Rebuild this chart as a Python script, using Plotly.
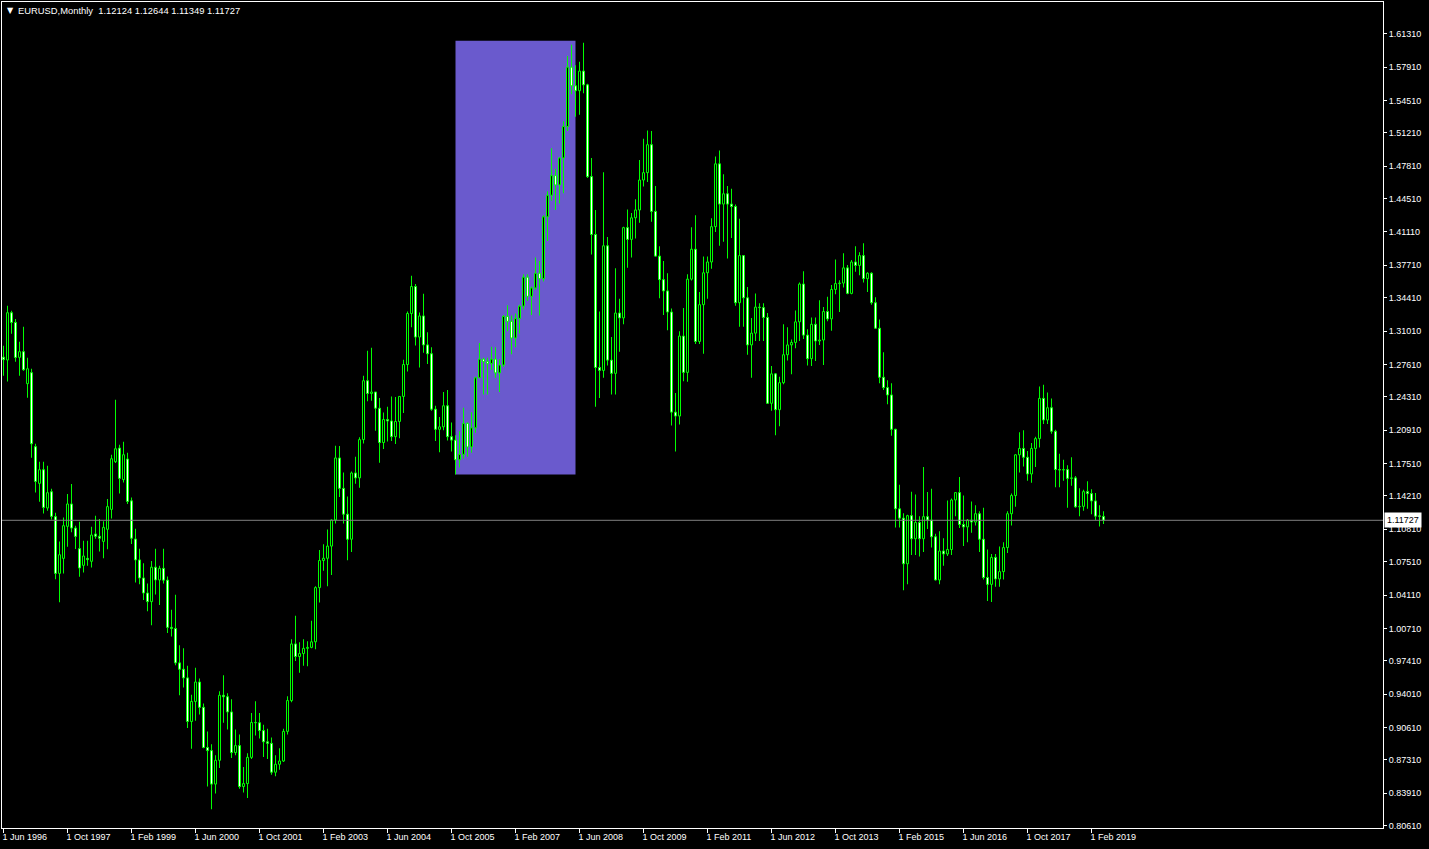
import plotly.graph_objects as go
import pandas as pd

# ---------------- data (EURUSD monthly) ----------------
chart_title = "EURUSD,Monthly  1.12124 1.12644 1.11349 1.11727"
first_month = "1996-06"

opens = [
    # 1996 Jun-Dec
    1.2835, 1.2806, 1.3288, 1.3189, 1.2833, 1.2891, 1.2565,
    # 1997
    1.2677, 1.1923, 1.1549, 1.1688, 1.1298, 1.1464, 1.1210, 1.0632, 1.0785, 1.1111, 1.1339, 1.1094,
    # 1998
    1.0884, 1.0714, 1.0785, 1.0755, 1.1033, 1.1010, 1.0958, 1.1081, 1.1284, 1.1770, 1.1909, 1.1587,
    # 1999
    1.1797, 1.1371, 1.0982, 1.0769, 1.0585, 1.0432, 1.0344, 1.0695, 1.0565, 1.0683, 1.0563, 1.0082,
    # 2000
    1.0070, 0.9720, 0.9655, 0.9567, 0.9123, 0.9327, 0.9525, 0.9267, 0.8858, 0.8826, 0.8485, 0.8727,
    # 2001
    0.9390, 0.9375, 0.9220, 0.8806, 0.8877, 0.8460, 0.8490, 0.8757, 0.9113, 0.9110, 0.9030, 0.8916,
    # 2002
    0.8900, 0.8606, 0.8687, 0.8720, 0.9022, 0.9336, 0.9913, 0.9785, 0.9815, 0.9868, 0.9878, 0.9935,
    # 2003
    1.0487, 1.0763, 1.0786, 1.0910, 1.1176, 1.1808, 1.1498, 1.1235, 1.0980, 1.1655, 1.1605, 1.1995,
    # 2004
    1.2595, 1.2465, 1.2480, 1.2315, 1.1965, 1.2200, 1.2185, 1.2025, 1.2180, 1.2435, 1.2760, 1.3280,
    # 2005
    1.3555, 1.3040, 1.3255, 1.2960, 1.2870, 1.2305, 1.2100, 1.2125, 1.2340, 1.2025, 1.1990, 1.1790,
    # 2006
    1.1845, 1.2160, 1.1920, 1.2115, 1.2625, 1.2815, 1.2790, 1.2770, 1.2815, 1.2675, 1.2755, 1.3250,
    # 2007
    1.3200, 1.3030, 1.3230, 1.3355, 1.3650, 1.3455, 1.3540, 1.3690, 1.3635, 1.4265, 1.4485, 1.4685,
    # 2008
    1.4590, 1.4865, 1.5185, 1.5790, 1.5600, 1.5550, 1.5750, 1.5610, 1.4675, 1.4085, 1.2730, 1.2700,
    # 2009
    1.3970, 1.2805, 1.2670, 1.3285, 1.3235, 1.4155, 1.4035, 1.4255, 1.4335, 1.4640, 1.4715, 1.5000,
    # 2010
    1.4320, 1.3865, 1.3625, 1.3510, 1.3295, 1.2275, 1.2235, 1.3050, 1.2680, 1.3630, 1.3935, 1.2995,
    # 2011
    1.3370, 1.3695, 1.3805, 1.4165, 1.4805, 1.4395, 1.4500, 1.4395, 1.4370, 1.3390, 1.3870, 1.3440,
    # 2012
    1.2960, 1.3080, 1.3345, 1.3340, 1.3240, 1.2365, 1.2665, 1.2300, 1.2575, 1.2860, 1.2960, 1.2985,
    # 2013
    1.3195, 1.3580, 1.3060, 1.2820, 1.3170, 1.3000, 1.3010, 1.3300, 1.3225, 1.3525, 1.3585, 1.3590,
    # 2014
    1.3745, 1.3485, 1.3805, 1.3770, 1.3870, 1.3635, 1.3690, 1.3390, 1.3130, 1.2630, 1.2525, 1.2450,
    # 2015
    1.2100, 1.1290, 1.1195, 1.0730, 1.1220, 1.0985, 1.1150, 1.0985, 1.1210, 1.1175, 1.1005, 1.0565,
    # 2016
    1.0860, 1.0830, 1.0875, 1.1380, 1.1455, 1.1130, 1.1105, 1.1175, 1.1155, 1.1240, 1.0980, 1.0590,
    # 2017
    1.0520, 1.0795, 1.0575, 1.0650, 1.0895, 1.1240, 1.1425, 1.1840, 1.1905, 1.1815, 1.1645, 1.1905,
    # 2018
    1.2005, 1.2415, 1.2195, 1.2320, 1.2080, 1.1690, 1.1685, 1.1690, 1.1600, 1.1605, 1.1310, 1.1315,
    # 2019 Jan-May
    1.1465, 1.1445, 1.1370, 1.1218, 1.12124,
]

highs = [
    1.2952, 1.3360, 1.3309, 1.3225, 1.2993, 1.3146, 1.2830,
    1.2717, 1.1953, 1.1770, 1.1770, 1.1729, 1.1495, 1.1250, 1.0958, 1.1202, 1.1441, 1.1543, 1.1118,
    1.1159, 1.0965, 1.0965, 1.1108, 1.1220, 1.1186, 1.1162, 1.1390, 1.1841, 1.2402, 1.1943, 1.1974,
    1.1862, 1.1406, 1.1087, 1.0884, 1.0735, 1.0530, 1.0757, 1.0884, 1.0710, 1.0882, 1.0600, 1.0262,
    1.0414, 0.9900, 0.9870, 0.9690, 0.9395, 0.9670, 0.9560, 0.9305, 0.9020, 0.8890, 0.8780, 0.9430,
    0.9595, 0.9410, 0.9350, 0.9040, 0.8990, 0.8660, 0.8800, 0.9210, 0.9330, 0.9210, 0.9090, 0.9050,
    0.8960, 0.8780, 0.8850, 0.9050, 0.9380, 0.9960, 1.0200, 0.9930, 0.9960, 0.9940, 1.0150, 1.0500,
    1.0870, 1.0930, 1.1080, 1.1180, 1.1933, 1.1930, 1.1660, 1.1415, 1.1670, 1.1820, 1.2020, 1.2645,
    1.2900, 1.2930, 1.2480, 1.2420, 1.2270, 1.2330, 1.2435, 1.2430, 1.2435, 1.2810, 1.3300, 1.3665,
    1.3580, 1.3290, 1.3480, 1.3090, 1.2935, 1.2340, 1.2225, 1.2480, 1.2500, 1.2170, 1.2040, 1.2080,
    1.2320, 1.2170, 1.2275, 1.2635, 1.2980, 1.2830, 1.2830, 1.2940, 1.2935, 1.2815, 1.3265, 1.3365,
    1.3260, 1.3280, 1.3370, 1.3680, 1.3680, 1.3555, 1.3850, 1.3815, 1.4280, 1.4525, 1.4965, 1.4755,
    1.4870, 1.5240, 1.5905, 1.6018, 1.5810, 1.5845, 1.6038, 1.5620, 1.4865, 1.4335, 1.3300, 1.4720,
    1.4060, 1.3040, 1.3740, 1.3430, 1.4165, 1.4340, 1.4305, 1.4445, 1.4845, 1.5060, 1.5145, 1.5140,
    1.4580, 1.3965, 1.3815, 1.3690, 1.3330, 1.2470, 1.3100, 1.3335, 1.3680, 1.4160, 1.4280, 1.3500,
    1.3860, 1.3860, 1.4250, 1.4880, 1.4940, 1.4700, 1.4580, 1.4550, 1.4390, 1.4245, 1.3875, 1.3550,
    1.3235, 1.3485, 1.3385, 1.3385, 1.3285, 1.2745, 1.2675, 1.2635, 1.3170, 1.3140, 1.3015, 1.3310,
    1.3595, 1.3710, 1.3120, 1.3240, 1.3240, 1.3415, 1.3345, 1.3450, 1.3570, 1.3830, 1.3620, 1.3895,
    1.3775, 1.3825, 1.3965, 1.3905, 1.3995, 1.3700, 1.3700, 1.3445, 1.3220, 1.2885, 1.2600, 1.2570,
    1.2105, 1.1535, 1.1245, 1.1230, 1.1465, 1.1435, 1.1215, 1.1715, 1.1460, 1.1495, 1.1035, 1.1060,
    1.0990, 1.1375, 1.1395, 1.1460, 1.1615, 1.1425, 1.1185, 1.1365, 1.1325, 1.1265, 1.1300, 1.0875,
    1.0830, 1.0830, 1.0905, 1.0950, 1.1265, 1.1445, 1.1845, 1.2070, 1.2090, 1.1880, 1.1960, 1.2025,
    1.2535, 1.2555, 1.2475, 1.2415, 1.2095, 1.1850, 1.1790, 1.1735, 1.1815, 1.1625, 1.1500, 1.1485,
    1.1570, 1.1490, 1.1450, 1.1325, 1.12644,
]

lows = [
    1.2646, 1.2588, 1.3074, 1.2789, 1.2646, 1.2697, 1.2422,
    1.1811, 1.1457, 1.1363, 1.1243, 1.1271, 1.1182, 1.0571, 1.0337, 1.0632, 1.0904, 1.1050, 1.0880,
    1.0598, 1.0642, 1.0710, 1.0693, 1.0984, 1.0856, 1.0785, 1.0877, 1.1192, 1.1756, 1.1447, 1.1559,
    1.1339, 1.0931, 1.0540, 1.0522, 1.0360, 1.0247, 1.0104, 1.0417, 1.0310, 1.0530, 1.0025, 0.9990,
    0.9695, 0.9390, 0.9470, 0.9056, 0.8844, 0.9130, 0.9195, 0.8850, 0.8460, 0.8228, 0.8388, 0.8650,
    0.9110, 0.9040, 0.8750, 0.8780, 0.8438, 0.8400, 0.8344, 0.8740, 0.8980, 0.8950, 0.8760, 0.8740,
    0.8580, 0.8564, 0.8632, 0.8710, 0.8990, 0.9320, 0.9740, 0.9620, 0.9690, 0.9685, 0.9870, 0.9860,
    1.0335, 1.0660, 1.0500, 1.0615, 1.1140, 1.1410, 1.1140, 1.0765, 1.0850, 1.1545, 1.1505, 1.1955,
    1.2385, 1.2390, 1.2085, 1.1760, 1.1900, 1.1975, 1.1980, 1.1950, 1.2010, 1.2265, 1.2690, 1.3140,
    1.2955, 1.2730, 1.2880, 1.2765, 1.2290, 1.1980, 1.1865, 1.2090, 1.1985, 1.1875, 1.1640, 1.1710,
    1.1800, 1.1820, 1.1860, 1.2065, 1.2620, 1.2455, 1.2455, 1.2705, 1.2625, 1.2480, 1.2735, 1.3100,
    1.2865, 1.2935, 1.3075, 1.3320, 1.3410, 1.3265, 1.3520, 1.3260, 1.3605, 1.4020, 1.4430, 1.4335,
    1.4400, 1.4505, 1.5140, 1.5515, 1.5285, 1.5305, 1.5525, 1.4660, 1.3880, 1.2330, 1.2420, 1.2625,
    1.2750, 1.2455, 1.2455, 1.2890, 1.3170, 1.3745, 1.3850, 1.4045, 1.4205, 1.4575, 1.4620, 1.4215,
    1.3860, 1.3435, 1.3265, 1.3110, 1.2140, 1.1875, 1.2150, 1.2590, 1.2585, 1.3615, 1.2970, 1.2970,
    1.2870, 1.3430, 1.3735, 1.4110, 1.3970, 1.4010, 1.3840, 1.4050, 1.3360, 1.3145, 1.3145, 1.2860,
    1.2625, 1.3000, 1.3000, 1.3000, 1.2360, 1.2290, 1.2040, 1.2130, 1.2560, 1.2800, 1.2660, 1.2925,
    1.3000, 1.3020, 1.2750, 1.2745, 1.2795, 1.2960, 1.2755, 1.3200, 1.3105, 1.3475, 1.3295, 1.3545,
    1.3475, 1.3475, 1.3705, 1.3670, 1.3595, 1.3500, 1.3370, 1.3125, 1.2570, 1.2500, 1.2355, 1.2035,
    1.1100, 1.1100, 1.0460, 1.0520, 1.0820, 1.0820, 1.0805, 1.0850, 1.1085, 1.0895, 1.0560, 1.0520,
    1.0710, 1.0810, 1.0820, 1.1215, 1.1095, 1.0910, 1.0950, 1.1045, 1.1120, 1.0850, 1.0570, 1.0350,
    1.0340, 1.0495, 1.0495, 1.0570, 1.0840, 1.1120, 1.1310, 1.1660, 1.1720, 1.1575, 1.1555, 1.1715,
    1.1915, 1.2155, 1.2155, 1.2055, 1.1510, 1.1510, 1.1575, 1.1300, 1.1525, 1.1300, 1.1215, 1.1270,
    1.1290, 1.1235, 1.1175, 1.1110, 1.11349,
]

closes = [
    1.2810, 1.3288, 1.3189, 1.2832, 1.2891, 1.2707, 1.2717,
    1.1953, 1.1569, 1.1688, 1.1304, 1.1454, 1.1213, 1.0632, 1.0822, 1.1118, 1.1339, 1.1094, 1.1009,
    1.0687, 1.0809, 1.0772, 1.1023, 1.1010, 1.0990, 1.1101, 1.1312, 1.1800, 1.1902, 1.1600, 1.1841,
    1.1365, 1.0990, 1.0769, 1.0585, 1.0432, 1.0344, 1.0695, 1.0565, 1.0683, 1.0563, 1.0082, 1.0070,
    0.9720, 0.9655, 0.9567, 0.9123, 0.9327, 0.9525, 0.9267, 0.8858, 0.8826, 0.8485, 0.8727, 0.9390,
    0.9375, 0.9220, 0.8806, 0.8877, 0.8460, 0.8490, 0.8757, 0.9113, 0.9110, 0.9030, 0.8916, 0.8900,
    0.8606, 0.8687, 0.8720, 0.9022, 0.9336, 0.9913, 0.9785, 0.9815, 0.9868, 0.9878, 0.9935, 1.0487,
    1.0763, 1.0786, 1.0910, 1.1176, 1.1808, 1.1498, 1.1235, 1.0980, 1.1655, 1.1605, 1.1995, 1.2595,
    1.2465, 1.2480, 1.2315, 1.1965, 1.2200, 1.2185, 1.2025, 1.2180, 1.2435, 1.2760, 1.3280, 1.3555,
    1.3040, 1.3255, 1.2960, 1.2870, 1.2305, 1.2100, 1.2125, 1.2340, 1.2025, 1.1990, 1.1790, 1.1845,
    1.2160, 1.1920, 1.2115, 1.2625, 1.2815, 1.2790, 1.2770, 1.2815, 1.2675, 1.2755, 1.3250, 1.3200,
    1.3030, 1.3230, 1.3355, 1.3650, 1.3455, 1.3540, 1.3690, 1.3635, 1.4265, 1.4485, 1.4685, 1.4590,
    1.4865, 1.5185, 1.5790, 1.5600, 1.5550, 1.5750, 1.5610, 1.4675, 1.4085, 1.2730, 1.2700, 1.3970,
    1.2805, 1.2670, 1.3285, 1.3235, 1.4155, 1.4035, 1.4255, 1.4335, 1.4640, 1.4715, 1.5000, 1.4320,
    1.3865, 1.3625, 1.3510, 1.3295, 1.2275, 1.2235, 1.3050, 1.2680, 1.3630, 1.3935, 1.2995, 1.3370,
    1.3695, 1.3805, 1.4165, 1.4805, 1.4395, 1.4500, 1.4395, 1.4370, 1.3390, 1.3870, 1.3440, 1.2960,
    1.3080, 1.3345, 1.3340, 1.3240, 1.2365, 1.2665, 1.2300, 1.2575, 1.2860, 1.2960, 1.2985, 1.3195,
    1.3580, 1.3060, 1.2820, 1.3170, 1.3000, 1.3010, 1.3300, 1.3225, 1.3525, 1.3585, 1.3590, 1.3745,
    1.3485, 1.3805, 1.3770, 1.3870, 1.3635, 1.3690, 1.3390, 1.3130, 1.2630, 1.2525, 1.2450, 1.2100,
    1.1290, 1.1195, 1.0730, 1.1220, 1.0985, 1.1150, 1.0985, 1.1210, 1.1175, 1.1005, 1.0565, 1.0860,
    1.0830, 1.0875, 1.1380, 1.1455, 1.1130, 1.1105, 1.1175, 1.1155, 1.1240, 1.0980, 1.0590, 1.0520,
    1.0795, 1.0575, 1.0650, 1.0895, 1.1240, 1.1425, 1.1840, 1.1905, 1.1815, 1.1645, 1.1905, 1.2005,
    1.2415, 1.2195, 1.2320, 1.2080, 1.1690, 1.1685, 1.1690, 1.1600, 1.1605, 1.1310, 1.1315, 1.1465,
    1.1445, 1.1370, 1.1215, 1.1213, 1.11727,
]

x_tick_labels = [
    "1 Jun 1996", "1 Oct 1997", "1 Feb 1999", "1 Jun 2000", "1 Oct 2001", "1 Feb 2003",
    "1 Jun 2004", "1 Oct 2005", "1 Feb 2007", "1 Jun 2008", "1 Oct 2009", "1 Feb 2011",
    "1 Jun 2012", "1 Oct 2013", "1 Feb 2015", "1 Jun 2016", "1 Oct 2017", "1 Feb 2019",
]

y_tick_labels = [
    "1.61310", "1.57910", "1.54510", "1.51210", "1.47810", "1.44510", "1.41110", "1.37710",
    "1.34410", "1.31010", "1.27610", "1.24310", "1.20910", "1.17510", "1.14210", "1.10810",
    "1.07510", "1.04110", "1.00710", "0.97410", "0.94010", "0.90610", "0.87310", "0.83910",
    "0.80610",
]

current_price = 1.11727
rect_start_month, rect_end_month = "2005-11", "2008-05"
rect_low, rect_high = 1.1640, 1.6060

# ---------------- derived structures ----------------
months = pd.period_range(first_month, periods=len(closes), freq="M")
month_pos = {p: i for i, p in enumerate(months)}
idx = list(range(len(closes)))

x_tick_vals = [month_pos[pd.Timestamp(lbl).to_period("M")] for lbl in x_tick_labels]
y_tick_vals = [float(v) for v in y_tick_labels]

body_base = [min(o, c) for o, c in zip(opens, closes)]
body_size = [abs(c - o) for o, c in zip(opens, closes)]
body_fill = ["#000000" if c >= o else "#FFFFFF" for o, c in zip(opens, closes)]
wick_size = [h - l for h, l in zip(highs, lows)]

LIME = "#00FF00"
FONT = "Liberation Sans, Arial, sans-serif"

fig = go.Figure()
fig.add_trace(go.Bar(
    x=idx, y=wick_size, base=lows, width=0.25,
    marker=dict(color=LIME, line=dict(width=0)),
    hoverinfo="skip", showlegend=False,
))
fig.add_trace(go.Bar(
    x=idx, y=body_size, base=body_base, width=0.5,
    marker=dict(color=body_fill, line=dict(color=LIME, width=1)),
    hoverinfo="skip", showlegend=False,
))

W, H = 1429, 849
ml, mr, mt, mb = 2, 46, 2, 21
px_per_bar = 4.0
first_center_px = 3.5
x_min = (ml - first_center_px) / px_per_bar
x_max = (W - mr - first_center_px) / px_per_bar

# price scale: tick 1.61310 at y=33.7, 0.80610 at y=825.7
p_per_px = (1.61310 - 0.80610) / (825.7 - 33.7)
y_top = 1.61310 + (33.7 - mt) * p_per_px
y_bot = 0.80610 - ((H - mb) - 825.7) * p_per_px

fig.update_layout(
    width=W, height=H,
    margin=dict(l=ml, r=mr, t=mt, b=mb, pad=0),
    paper_bgcolor="#000000", plot_bgcolor="#000000",
    barmode="overlay", showlegend=False, hovermode=False,
    font=dict(family=FONT, size=9, color="#FFFFFF"),
    xaxis=dict(
        range=[x_min, x_max], showgrid=False, zeroline=False,
        showline=True, linecolor="#FFFFFF", linewidth=1, mirror=True,
        ticks="outside", ticklen=4, tickwidth=1, tickcolor="#FFFFFF",
        tickvals=x_tick_vals, ticktext=x_tick_labels,
        ticklabelposition="outside right", ticklabelshift=-2,
        tickfont=dict(family=FONT, size=9, color="#FFFFFF"),
        fixedrange=True,
    ),
    yaxis=dict(
        range=[y_bot, y_top], side="right", showgrid=False, zeroline=False,
        showline=True, linecolor="#FFFFFF", linewidth=1, mirror=True,
        ticks="outside", ticklen=3, tickwidth=1, tickcolor="#FFFFFF",
        tickvals=y_tick_vals, ticktext=y_tick_labels,
        tickfont=dict(family=FONT, size=9, color="#FFFFFF"),
        fixedrange=True,
    ),
    shapes=[
        dict(type="rect", xref="x", yref="y", layer="below",
             x0=month_pos[pd.Period(rect_start_month, "M")],
             x1=month_pos[pd.Period(rect_end_month, "M")],
             y0=rect_low, y1=rect_high,
             fillcolor="#6A5ACD", line=dict(width=0)),
        dict(type="line", xref="paper", yref="y", layer="above",
             x0=0, x1=1, y0=current_price, y1=current_price,
             line=dict(color="#808080", width=1)),
    ],
    annotations=[
        dict(text="▼", xref="paper", yref="paper", x=0, y=1,
             xanchor="left", yanchor="top", xshift=3, yshift=-2,
             showarrow=False, font=dict(family="DejaVu Sans", size=8, color="#FFFFFF")),
        dict(text=chart_title, xref="paper", yref="paper", x=0, y=1,
             xanchor="left", yanchor="top", xshift=14, yshift=-1,
             showarrow=False, font=dict(family=FONT, size=9.4, color="#FFFFFF")),
        dict(text=f"{current_price:.5f}", xref="paper", yref="y", x=1, y=current_price,
             xanchor="left", yanchor="middle", xshift=1,
             showarrow=False, bgcolor="#FFFFFF", borderpad=2,
             font=dict(family=FONT, size=9, color="#000000")),
    ],
)

fig.write_html(
    "out.html",
    config={"displayModeBar": False},
    post_script="document.body.style.margin='0';document.body.style.overflow='hidden';",
)
